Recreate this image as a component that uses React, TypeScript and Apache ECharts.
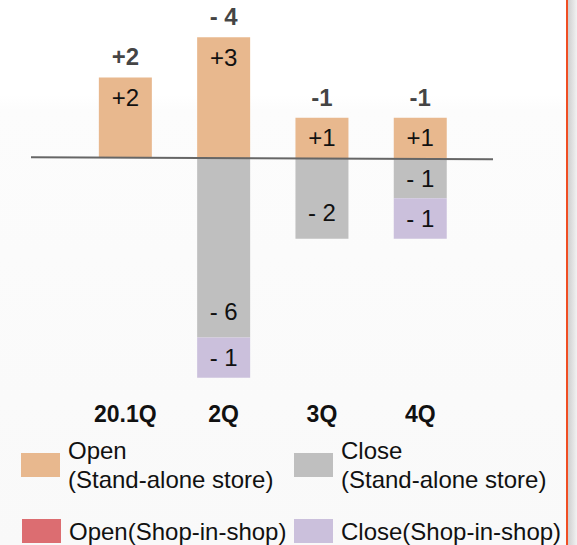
import React, { useEffect, useRef } from "react";
import * as echarts from "echarts";

const categories = ["20.1Q", "2Q", "3Q", "4Q"];
const openStandAlone = [2, 3, 1, 1];
const closeStandAlone = [0, -6, -2, -1];
const openShopInShop = [0, 0, 0, 0];
const closeShopInShop = [0, -1, 0, -1];
const totalLabels = ["+2", "- 4", "-1", "-1"];
const seriesNames = [
  "Open\n(Stand-alone store)",
  "Close\n(Stand-alone store)",
  "Open(Shop-in-shop)",
  "Close(Shop-in-shop)",
];
const colors = ["#E8B88E", "#BFBFBF", "#DC6D71", "#CBC0DC"];

const FONT = "'Liberation Sans', Arial, sans-serif";
const fmt = (v: number) => (v > 0 ? `+${v}` : `- ${Math.abs(v)}`);

function items(values: number[], labelFor: (v: number) => any) {
  return values.map((v) => ({
    value: v,
    label: v === 0 ? { show: false } : labelFor(v),
  }));
}

export default function App() {
  const ref = useRef<HTMLDivElement>(null);
  useEffect(() => {
    if (!ref.current) return;
    const chart = echarts.init(ref.current, undefined, { renderer: "svg" });
    const labelBase = {
      show: true,
      fontSize: 24,
      color: "#111",
      fontFamily: FONT,
      formatter: (p: any) => fmt(p.value),
    };
    const legendCommon = {
      orient: "horizontal",
      padding: 0,
      itemWidth: 39,
      itemHeight: 24,
      icon: "rect",
      selectedMode: false,
      textStyle: {
        fontSize: 24,
        lineHeight: 29,
        color: "#111",
        fontFamily: FONT,
        padding: [0, 0, 0, 3],
      },
    };
    const option: any = {
      animation: false,
      grid: { left: 76.2, right: 107.6, top: 17, bottom: 167.3 },
      xAxis: {
        type: "category",
        data: categories,
        axisLine: { show: false, onZero: false },
        axisTick: { show: false },
        axisLabel: {
          margin: 25,
          fontSize: 23,
          fontWeight: "bold",
          color: "#111",
          fontFamily: FONT,
        },
      },
      yAxis: {
        type: "value",
        min: -7,
        max: 3.5,
        show: false,
        splitLine: { show: false },
        breaks: [{ start: -4.55, end: -3, gap: 0 }],
        breakArea: { show: false },
      },
      legend: [
        { ...legendCommon, data: [seriesNames[0]], left: 21, top: 436 },
        { ...legendCommon, data: [seriesNames[1]], left: 294, top: 436 },
        { ...legendCommon, data: [seriesNames[2]], left: 22, top: 516.5 },
        { ...legendCommon, data: [seriesNames[3]], left: 294, top: 516.5 },
      ],
      series: [
        {
          name: seriesNames[0],
          type: "bar",
          stack: "s",
          barWidth: 53,
          itemStyle: { color: colors[0] },
          label: { ...labelBase, position: "insideTop", distance: 8 },
          data: items(openStandAlone, () => ({})),
        },
        {
          name: seriesNames[1],
          type: "bar",
          stack: "s",
          barWidth: 53,
          itemStyle: { color: colors[1] },
          label: { ...labelBase },
          data: items(closeStandAlone, (v) =>
            Math.abs(v) >= 2
              ? { position: "insideBottom", distance: 14 }
              : { position: "inside" }
          ),
        },
        {
          name: seriesNames[2],
          type: "bar",
          stack: "s",
          barWidth: 53,
          itemStyle: { color: colors[2] },
          label: { ...labelBase, position: "inside" },
          data: items(openShopInShop, () => ({})),
        },
        {
          name: seriesNames[3],
          type: "bar",
          stack: "s",
          barWidth: 53,
          itemStyle: { color: colors[3] },
          label: { ...labelBase, position: "inside" },
          data: items(closeShopInShop, () => ({})),
        },
        {
          name: "total",
          type: "scatter",
          symbolSize: 1,
          silent: true,
          itemStyle: { color: "rgba(0,0,0,0)" },
          label: {
            show: true,
            position: "top",
            distance: 8,
            fontSize: 24,
            fontWeight: "bold",
            color: "#111",
            fontFamily: FONT,
            formatter: (p: any) => totalLabels[p.dataIndex],
          },
          data: openStandAlone.map((v, i) => v + openShopInShop[i]),
        },
      ],
    };
    chart.setOption(option);
    const y0 = chart.convertToPixel({ yAxisIndex: 0 }, 0) as number;
    chart.setOption({
      graphic: [
        {
          type: "line",
          z: 100,
          shape: { x1: 31, y1: y0 - 0.8, x2: 493, y2: y0 + 1.2 },
          style: { stroke: "#666", lineWidth: 2 },
        },
        {
          type: "rect",
          z: 100,
          shape: { x: 566, y: 0, width: 2.2, height: 545 },
          style: { fill: "#F04E23" },
        },
        {
          type: "rect",
          z: 100,
          shape: { x: 568, y: 0, width: 9, height: 545 },
          style: {
            fill: {
              type: "linear",
              x: 0,
              y: 0,
              x2: 1,
              y2: 0,
              colorStops: [
                { offset: 0, color: "#cfcfcf" },
                { offset: 1, color: "#f2f2f2" },
              ],
            },
          },
        },
      ],
    });
    return () => chart.dispose();
  }, []);
  return (
    <div
      ref={ref}
      style={{
        position: "absolute",
        left: 0,
        top: 0,
        width: 577,
        height: 545,
        background:
          "linear-gradient(#ffffff 0px, #ffffff 95px, #fcfcfc 110px, #f9f9f9 545px)",
      }}
    />
  );
}
